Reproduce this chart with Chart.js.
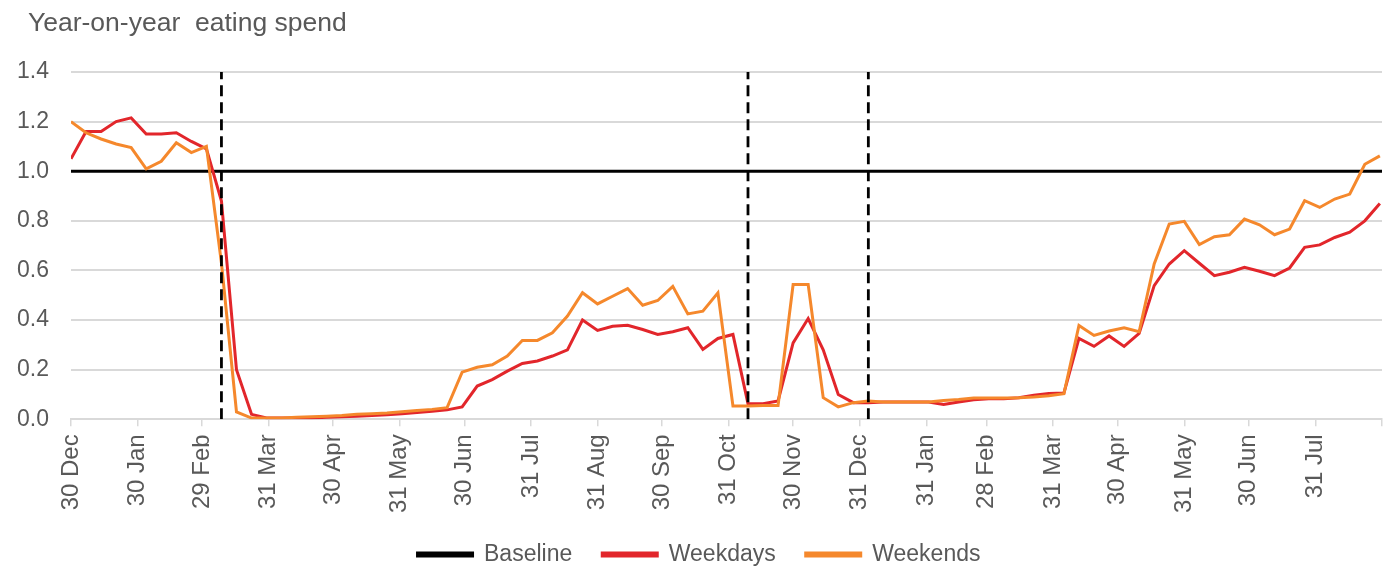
<!DOCTYPE html>
<html>
<head>
<meta charset="utf-8">
<script src="https://cdn.jsdelivr.net/npm/chart.js@4.4.1/dist/chart.umd.min.js"></script>
<style>
  html, body { margin: 0; padding: 0; background: #fff; }
  #wrap { width: 1394px; height: 566px; position: relative; }
</style>
</head>
<body>
<div id="wrap"><canvas id="spendChart"></canvas></div>
<script>
// weekly year-on-year eating spend, first week = 30 Dec 2019
const weekdays = [
  1.05, 1.16, 1.16, 1.20, 1.215, 1.15, 1.15, 1.155, 1.12, 1.09,
  0.88, 0.20, 0.02, 0.005, 0.005, 0.005, 0.005, 0.008, 0.01, 0.012,
  0.015, 0.018, 0.022, 0.027, 0.032, 0.038, 0.05, 0.134, 0.16, 0.194,
  0.225, 0.235, 0.255, 0.28, 0.40, 0.358, 0.375, 0.379, 0.362, 0.342,
  0.353, 0.369, 0.282, 0.326, 0.342, 0.063, 0.063, 0.074, 0.308, 0.406,
  0.28, 0.10, 0.067, 0.067, 0.07, 0.07, 0.07, 0.07, 0.06, 0.07,
  0.079, 0.083, 0.083, 0.087, 0.097, 0.104, 0.106, 0.326, 0.294, 0.336,
  0.294, 0.346, 0.539, 0.626, 0.68, 0.629, 0.579, 0.593, 0.613, 0.597,
  0.579, 0.61, 0.693, 0.703, 0.733, 0.754, 0.80, 0.87
];
const weekends = [
  1.20, 1.155, 1.13, 1.11, 1.095, 1.01, 1.04, 1.115, 1.075, 1.10,
  0.63, 0.03, 0.005, 0.005, 0.005, 0.008, 0.01, 0.012, 0.015, 0.02,
  0.022, 0.025, 0.03, 0.035, 0.04, 0.047, 0.19, 0.21, 0.22, 0.255,
  0.318, 0.318, 0.349, 0.416, 0.51, 0.465, 0.496, 0.527, 0.46, 0.479,
  0.536, 0.425, 0.436, 0.51, 0.054, 0.054, 0.056, 0.056, 0.543, 0.543,
  0.087, 0.05, 0.067, 0.074, 0.07, 0.07, 0.07, 0.07, 0.076, 0.08,
  0.086, 0.086, 0.086, 0.087, 0.09, 0.095, 0.103, 0.378, 0.338, 0.356,
  0.369, 0.353, 0.626, 0.787, 0.798, 0.704, 0.736, 0.744, 0.807, 0.784,
  0.744, 0.767, 0.881, 0.854, 0.888, 0.908, 1.028, 1.062
];
const baselineValue = 1.0;

// x axis: days since 30 Dec 2019
const weekDays = weekdays.map((_, i) => i * 7);
const tickDays = [0, 31, 61, 92, 122, 153, 183, 214, 245, 275, 306, 336, 367, 398, 426, 457, 487, 518, 548, 579, 610];
const tickLabels = ['30 Dec', '30 Jan', '29 Feb', '31 Mar', '30 Apr', '31 May', '30 Jun', '31 Jul', '31 Aug', '30 Sep',
  '31 Oct', '30 Nov', '31 Dec', '31 Jan', '28 Feb', '31 Mar', '30 Apr', '31 May', '30 Jun', '31 Jul', ''];
const yTicks = [0, 0.2, 0.4, 0.6, 0.8, 1.0, 1.2, 1.4];
// dashed markers (lockdown weeks)
const eventDays = [70, 315, 371];

const textGrey = '#595959';
const font = 'Liberation Sans, Arial, sans-serif';

const toPoints = (vals) => vals.map((v, i) => ({ x: weekDays[i], y: v }));

const datasets = [
  {
    label: 'Baseline',
    data: [{ x: tickDays[0], y: baselineValue }, { x: tickDays[tickDays.length - 1], y: baselineValue }],
    borderColor: '#000', backgroundColor: '#000', borderWidth: 3, order: 3
  },
  {
    label: 'Weekdays',
    data: toPoints(weekdays),
    borderColor: '#e2262b', backgroundColor: '#e2262b', borderWidth: 3, order: 2
  },
  {
    label: 'Weekends',
    data: toPoints(weekends),
    borderColor: '#f5882c', backgroundColor: '#f5882c', borderWidth: 3, order: 1
  }
];
eventDays.forEach(d => {
  datasets.push({
    label: 'event',
    data: [{ x: d, y: yTicks[0] }, { x: d, y: yTicks[yTicks.length - 1] }],
    borderColor: '#000', borderWidth: 2.8, borderDash: [11, 6], order: 0
  });
});

// title drawn at the top left
const titlePlugin = {
  id: 'topTitle',
  afterDraw(chart) {
    const c = chart.ctx;
    c.save();
    c.font = '26.5px ' + font;
    c.fillStyle = textGrey;
    c.textBaseline = 'alphabetic';
    c.fillText('Year-on-year  eating spend', 28, 31);
    c.restore();
  }
};

new Chart(document.getElementById('spendChart'), {
  type: 'line',
  data: { datasets: datasets },
  plugins: [titlePlugin],
  options: {
    responsive: true,
    maintainAspectRatio: false,
    animation: false,
    layout: { padding: { top: 72, left: 16, right: 12, bottom: -10 } },
    elements: {
      point: { radius: 0, hoverRadius: 0 },
      line: { tension: 0, fill: false }
    },
    scales: {
      x: {
        type: 'linear',
        min: tickDays[0],
        max: tickDays[tickDays.length - 1],
        afterBuildTicks: (axis) => { axis.ticks = tickDays.map(v => ({ value: v })); },
        afterFit: (axis) => {
          axis.paddingLeft = 0;
          axis.paddingRight = 0;
          axis.height -= 8;
        },
        ticks: {
          autoSkip: false,
          minRotation: 90,
          maxRotation: 90,
          padding: 8,
          color: textGrey,
          font: { size: 24, family: font },
          callback: (v) => tickLabels[tickDays.indexOf(v)]
        },
        grid: { drawOnChartArea: false, drawTicks: true, tickLength: 7, color: '#d9d9d9', lineWidth: 1.5 },
        border: { display: true, color: '#d9d9d9', width: 2 }
      },
      y: {
        min: yTicks[0],
        max: yTicks[yTicks.length - 1],
        afterBuildTicks: (axis) => { axis.ticks = yTicks.map(v => ({ value: v })); },
        afterFit: (axis) => { axis.width = 55; },
        ticks: {
          padding: 22,
          color: textGrey,
          font: { size: 23, family: font },
          callback: (v) => v.toFixed(1)
        },
        grid: { drawTicks: false, color: '#d9d9d9', lineWidth: 2 },
        border: { display: false }
      }
    },
    plugins: {
      title: { display: false },
      tooltip: { enabled: false },
      legend: {
        display: true,
        position: 'bottom',
        labels: {
          boxWidth: 55,
          boxHeight: 3,
          padding: 30,
          color: textGrey,
          font: { size: 23, family: font },
          filter: (item) => item.text !== 'event',
          sort: (a, b) => a.datasetIndex - b.datasetIndex
        }
      }
    }
  }
});
</script>
</body>
</html>
